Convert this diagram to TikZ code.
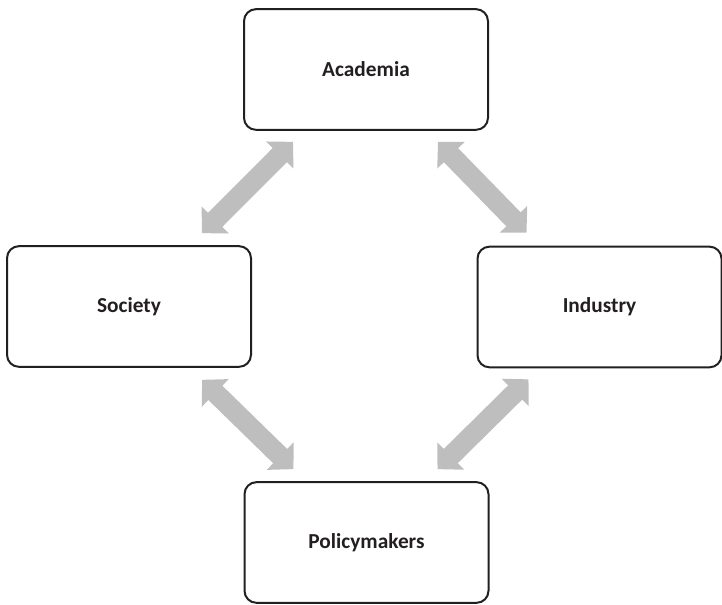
\documentclass[tikz,border=0pt]{standalone}
\usepackage{fontspec}
\setmainfont{Carlito}
\usepackage{tikz}
\usetikzlibrary{arrows.meta, positioning, calc}
\definecolor{boxline}{RGB}{35, 31, 32}
\definecolor{linkgray}{RGB}{190, 190, 190}

\begin{document}
\begin{tikzpicture}[x=0.75pt, y=-0.75pt,
    actor/.style={draw=boxline, line width=1.5pt, rounded corners=9pt,
        minimum width=183pt, minimum height=90.5pt,
        font=\fontsize{16}{19}\selectfont\bfseries, text=boxline},
    link/.style={draw=linkgray, line width=15pt,
        {Triangle[width=28pt,length=14pt]}-{Triangle[width=28pt,length=14pt]}}]
    % Marco
    \useasboundingbox (0,0) rectangle (722,605);
    % Actores
    \node[actor] (aca) at (366,69.5) {Academia};
    \node[actor] (soc) at (129,306.5) {Society};
    \node[actor] (ind) at (599.5,307) {Industry};
    \node[actor] (pol) at (366.5,542.5) {Policymakers};
    % Flechas dobles
    \draw[link] ($(soc.north east)+(-50,-12)$) -- ($(aca.south west)+(50,11)$);
    \draw[link] ($(aca.south east)+(-51,11)$) -- ($(ind.north west)+(50,-13)$);
    \draw[link] ($(soc.south east)+(-50,12)$) -- ($(pol.north west)+(50,-12)$);
    \draw[link] ($(ind.south west)+(52,11)$) -- ($(pol.north east)+(-52,-12)$);
\end{tikzpicture}
\end{document}
